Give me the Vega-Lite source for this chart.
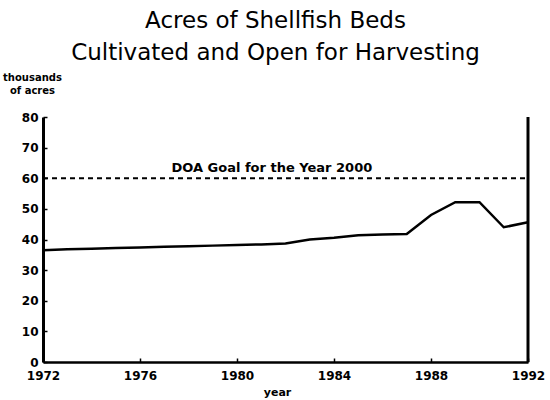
{
  "$schema": "https://vega.github.io/schema/vega-lite/v6.json",
  "width": 485,
  "height": 245,
  "autosize": "none",
  "padding": {"left": 43, "top": 117, "right": 22, "bottom": 38},
  "background": "white",
  "config": {
    "view": {"stroke": null},
    "font": "DejaVu Sans"
  },
  "title": {
    "text": ["Acres of Shellfish Beds", "Cultivated and Open for Harvesting"],
    "font": "DejaVu Sans",
    "fontSize": 23,
    "fontWeight": "normal",
    "lineHeight": 32,
    "anchor": "middle",
    "frame": "group",
    "dx": -10,
    "offset": 7,
    "color": "black"
  },
  "datasets": {
    "acres": [
      {"year": 1972, "acres": 36.5},
      {"year": 1973, "acres": 36.8},
      {"year": 1974, "acres": 37.0},
      {"year": 1975, "acres": 37.2},
      {"year": 1976, "acres": 37.4},
      {"year": 1977, "acres": 37.6},
      {"year": 1978, "acres": 37.8},
      {"year": 1979, "acres": 38.0},
      {"year": 1980, "acres": 38.2},
      {"year": 1981, "acres": 38.4},
      {"year": 1982, "acres": 38.7},
      {"year": 1983, "acres": 40.0},
      {"year": 1984, "acres": 40.6},
      {"year": 1985, "acres": 41.4},
      {"year": 1986, "acres": 41.6},
      {"year": 1987, "acres": 41.8},
      {"year": 1988, "acres": 48.0},
      {"year": 1989, "acres": 52.2},
      {"year": 1990, "acres": 52.2},
      {"year": 1991, "acres": 44.0},
      {"year": 1992, "acres": 45.6}
    ],
    "goal": [
      {"year": 1972, "acres": 60},
      {"year": 1992, "acres": 60}
    ],
    "label": [
      {"year": 1977.3, "acres": 62.2, "text": "DOA Goal for the Year 2000"}
    ],
    "border": [
      {"year": 1992, "acres": 0, "hi": 80}
    ]
  },
  "encoding": {
    "x": {
      "field": "year",
      "type": "quantitative",
      "scale": {"domain": [1972, 1992], "nice": false, "zero": false},
      "axis": {
        "title": "year",
        "titleFont": "DejaVu Sans",
        "titleFontWeight": "bold",
        "titleFontSize": 11,
        "titleColor": "black",
        "titleY": 33,
        "titleX": 234,
        "titleBaseline": "alphabetic",
        "values": [1972, 1976, 1980, 1984, 1988, 1992],
        "format": "d",
        "labelFont": "DejaVu Sans",
        "labelFontWeight": "bold",
        "labelFontSize": 12,
        "labelColor": "black",
        "labelPadding": 12,
        "labelFlush": false,
        "labelOverlap": false,
        "tickSize": -4,
        "tickColor": "black",
        "tickWidth": 1.5,
        "domainColor": "black",
        "domainWidth": 2.5,
        "grid": false
      }
    },
    "y": {
      "field": "acres",
      "type": "quantitative",
      "scale": {"domain": [0, 80], "nice": false},
      "axis": {
        "title": ["thousands", "of acres"],
        "titleAngle": 0,
        "titleFont": "DejaVu Sans",
        "titleFontWeight": "bold",
        "titleFontSize": 10,
        "titleColor": "black",
        "titleAlign": "center",
        "titleBaseline": "top",
        "titleLineHeight": 13,
        "titleX": -11,
        "titleY": -45,
        "values": [0, 10, 20, 30, 40, 50, 60, 70, 80],
        "tickCount": 9,
        "labelFont": "DejaVu Sans",
        "labelFontWeight": "bold",
        "labelFontSize": 12,
        "labelColor": "black",
        "labelPadding": 9,
        "labelFlush": false,
        "labelOverlap": false,
        "tickSize": -4,
        "tickColor": "black",
        "tickWidth": 1.5,
        "domainColor": "black",
        "domainWidth": 3,
        "grid": false
      }
    }
  },
  "layer": [
    {
      "data": {"name": "acres"},
      "mark": {"type": "line", "color": "black", "strokeWidth": 2.5}
    },
    {
      "data": {"name": "goal"},
      "mark": {"type": "line", "color": "black", "strokeWidth": 2, "strokeDash": [5, 4]}
    },
    {
      "data": {"name": "label"},
      "mark": {"type": "text", "align": "left", "baseline": "alphabetic", "font": "DejaVu Sans", "fontWeight": "bold", "fontSize": 13, "color": "black"},
      "encoding": {
        "text": {"field": "text"}
      }
    },
    {
      "data": {"name": "border"},
      "mark": {"type": "rule", "color": "black", "strokeWidth": 3},
      "encoding": {
        "y2": {"field": "hi"}
      }
    }
  ]
}
